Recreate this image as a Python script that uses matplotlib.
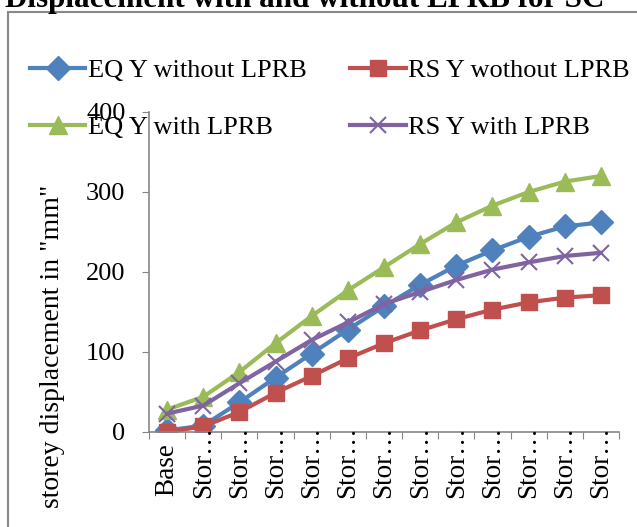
import numpy as np
import matplotlib.pyplot as plt
from matplotlib.patches import Rectangle

plt.rcParams['font.family'] = ['Liberation Serif', 'DejaVu Serif']

categorias = ["Base"] + ["Stor…"] * 12
eq_sin = [2, 8, 37, 68, 98, 128, 157, 184, 208, 227, 244, 257, 262]
rs_sin = [0, 7, 25, 49, 70, 92, 111, 127, 141, 153, 162, 168, 171]
eq_con = [28, 44, 75, 111, 145, 177, 206, 235, 262, 283, 300, 313, 320]
rs_con = [23, 33, 61, 88, 115, 137, 160, 175, 190, 203, 212, 220, 224]

W, H = 637, 527
fig = plt.figure(figsize=(W/100, H/100), dpi=100)
ax = fig.add_axes([149/W, 1-432/H, 470/W, 320/H])

x = np.arange(len(categorias))
l1, = ax.plot(x, eq_sin, color='#4F81BD', lw=3, marker='D', ms=12, label='EQ Y without LPRB')
l2, = ax.plot(x, rs_sin, color='#C0504D', lw=3, marker='s', ms=12, label='RS Y wothout LPRB')
l3, = ax.plot(x, eq_con, color='#9BBB59', lw=3, marker='^', ms=13, label='EQ Y with LPRB')
l4, = ax.plot(x, rs_con, color='#8064A2', lw=3, marker='x', ms=12, mew=1.5, label='RS Y with LPRB')

ax.set_xlim(-0.5, len(categorias)-0.5)
ax.set_ylim(0, 400)
ax.set_yticks([0, 100, 200, 300, 400])
ax.tick_params(axis='y', labelsize=19, length=5, color='#868686', pad=12)
ax.set_xticks(np.arange(-0.5, len(categorias), 1.0))
ax.set_xticklabels([])
ax.tick_params(axis='x', length=5, color='#868686')
for s in ['top', 'right']:
    ax.spines[s].set_visible(False)
for s in ['left', 'bottom']:
    ax.spines[s].set_color('#868686')
    ax.spines[s].set_linewidth(1.2)

# etiquetas de categoria (Excel las corta)
for i, c in enumerate(categorias):
    desp = 11 if i == 0 else -6
    ax.annotate(c, xy=(i, 0), xycoords=('data', 'axes fraction'), xytext=(0, -desp),
                textcoords='offset pixels', rotation=90, ha='center', va='top', fontsize=19.5)

fig.text(53/W, 1-346/H, 'storey displacement in "mm"', rotation=90, ha='center', va='center', fontsize=20)
fig.text(5/W, 1-7.5/H, 'Displacement with and without LPRB for SC', fontsize=22.4,
         fontweight='bold', va='baseline', ha='left')

fig.legend(handles=[l1, l3, l2, l4], ncol=2, loc='upper left', bbox_to_anchor=(30/W, 1-59/H),
           frameon=False, fontsize=19, handlelength=2.1, handletextpad=0.1, columnspacing=1.65,
           labelspacing=1.25, borderpad=0, borderaxespad=0)

fig.add_artist(Rectangle((7.5/W, -0.2), 1.2, 1.2-12/H, transform=fig.transFigure,
                         fill=False, edgecolor='#888888', lw=1.5))

plt.savefig("out.png", dpi=100)
